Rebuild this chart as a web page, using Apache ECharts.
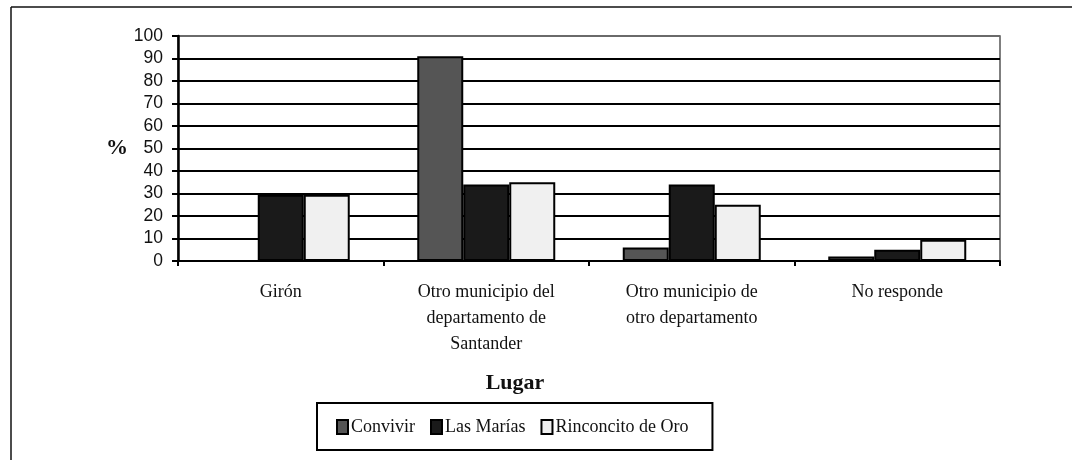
<!DOCTYPE html>
<html lang="es">
<head>
    <meta charset="UTF-8">
    <title>Lugar</title>
    <script type="text/javascript" src="https://cdn.jsdelivr.net/npm/echarts@6/dist/echarts.min.js"></script>
    <style>
        html, body { margin: 0; padding: 0; background: #fff; }
        #chart { width: 1072px; height: 460px; }
    </style>
</head>
<body>
<div id="chart"></div>
<script type="text/javascript">
    var lugares = ['Girón', 'Otro municipio del\ndepartamento de\nSantander', 'Otro municipio de\notro departamento', 'No responde'];
    var convivir = [0, 91, 6, 2];
    var lasMarias = [29.5, 34, 34, 5];
    var rinconcito = [29.5, 35, 25, 9.5];
    var yTicks = [0, 10, 20, 30, 40, 50, 60, 70, 80, 90, 100];

    var serif = '"Liberation Serif", "DejaVu Serif", serif';
    var sans = '"Liberation Sans", Arial, sans-serif';

    // gridlines black, the top one (100) is the grey plot border
    var gridColors = yTicks.map(function (v) { return v === 100 ? '#6a6a6a' : '#000'; });

    function barSerie(name, data, color) {
        return {
            name: name,
            type: 'bar',
            data: data,
            barWidth: 46,
            barGap: '0%',
            itemStyle: { color: color, borderColor: '#000', borderWidth: 2 },
            emphasis: { disabled: true }
        };
    }

    var mychart = echarts.init(document.getElementById('chart'), null, { renderer: 'canvas' });
    var option = {
        animation: false,
        backgroundColor: '#fff',
        grid: {
            left: 178, right: 72, top: 36, bottom: 199,
            show: true, borderColor: '#555', borderWidth: 1.5, backgroundColor: 'transparent'
        },
        legend: {
            left: 317, top: 403,
            orient: 'horizontal',
            padding: [15, 24, 14, 19],
            borderColor: '#000', borderWidth: 2,
            itemWidth: 11, itemHeight: 14, itemGap: 15,
            icon: 'rect',
            textStyle: { fontFamily: serif, fontSize: 18, color: '#111', padding: [0, 0, 0, -2] },
            data: ['Convivir', 'Las Marías', 'Rinconcito de Oro']
        },
        xAxis: {
            type: 'category',
            data: lugares,
            name: 'Lugar',
            nameLocation: 'middle',
            nameGap: 111,
            nameTextStyle: {
                fontFamily: serif, fontSize: 22, fontWeight: 'bold', color: '#111',
                padding: [0, 148, 0, 0]
            },
            axisLine: { lineStyle: { color: '#000', width: 2 } },
            axisTick: { show: true, length: 5, lineStyle: { color: '#000', width: 2 } },
            axisLabel: {
                margin: 18, fontFamily: serif, fontSize: 18, lineHeight: 26, color: '#111',
                interval: 0
            },
            splitLine: { show: false }
        },
        yAxis: {
            type: 'value',
            min: 0, max: 100, interval: 10,
            name: '%',
            nameLocation: 'middle',
            nameRotate: 0,
            nameGap: 50,
            nameTextStyle: { fontFamily: serif, fontSize: 22, fontWeight: 'bold', color: '#111' },
            axisLine: { show: true, lineStyle: { color: '#000', width: 2.5 } },
            axisTick: { show: true, length: 6, lineStyle: { color: '#000', width: 2 } },
            axisLabel: { margin: 15, fontFamily: sans, fontSize: 17.5, color: '#111' },
            splitLine: { show: true, lineStyle: { color: gridColors, width: 2 } }
        },
        series: [
            barSerie('Convivir', convivir, '#555555'),
            barSerie('Las Marías', lasMarias, '#1a1a1a'),
            barSerie('Rinconcito de Oro', rinconcito, '#f0f0f0')
        ],
        graphic: [
            { type: 'line', shape: { x1: 11, y1: 7, x2: 1072, y2: 7 }, style: { stroke: '#111', lineWidth: 1.5 } },
            { type: 'line', shape: { x1: 11, y1: 7, x2: 11, y2: 460 }, style: { stroke: '#111', lineWidth: 1.5 } }
        ]
    };
    mychart.setOption(option);
</script>
</body>
</html>
